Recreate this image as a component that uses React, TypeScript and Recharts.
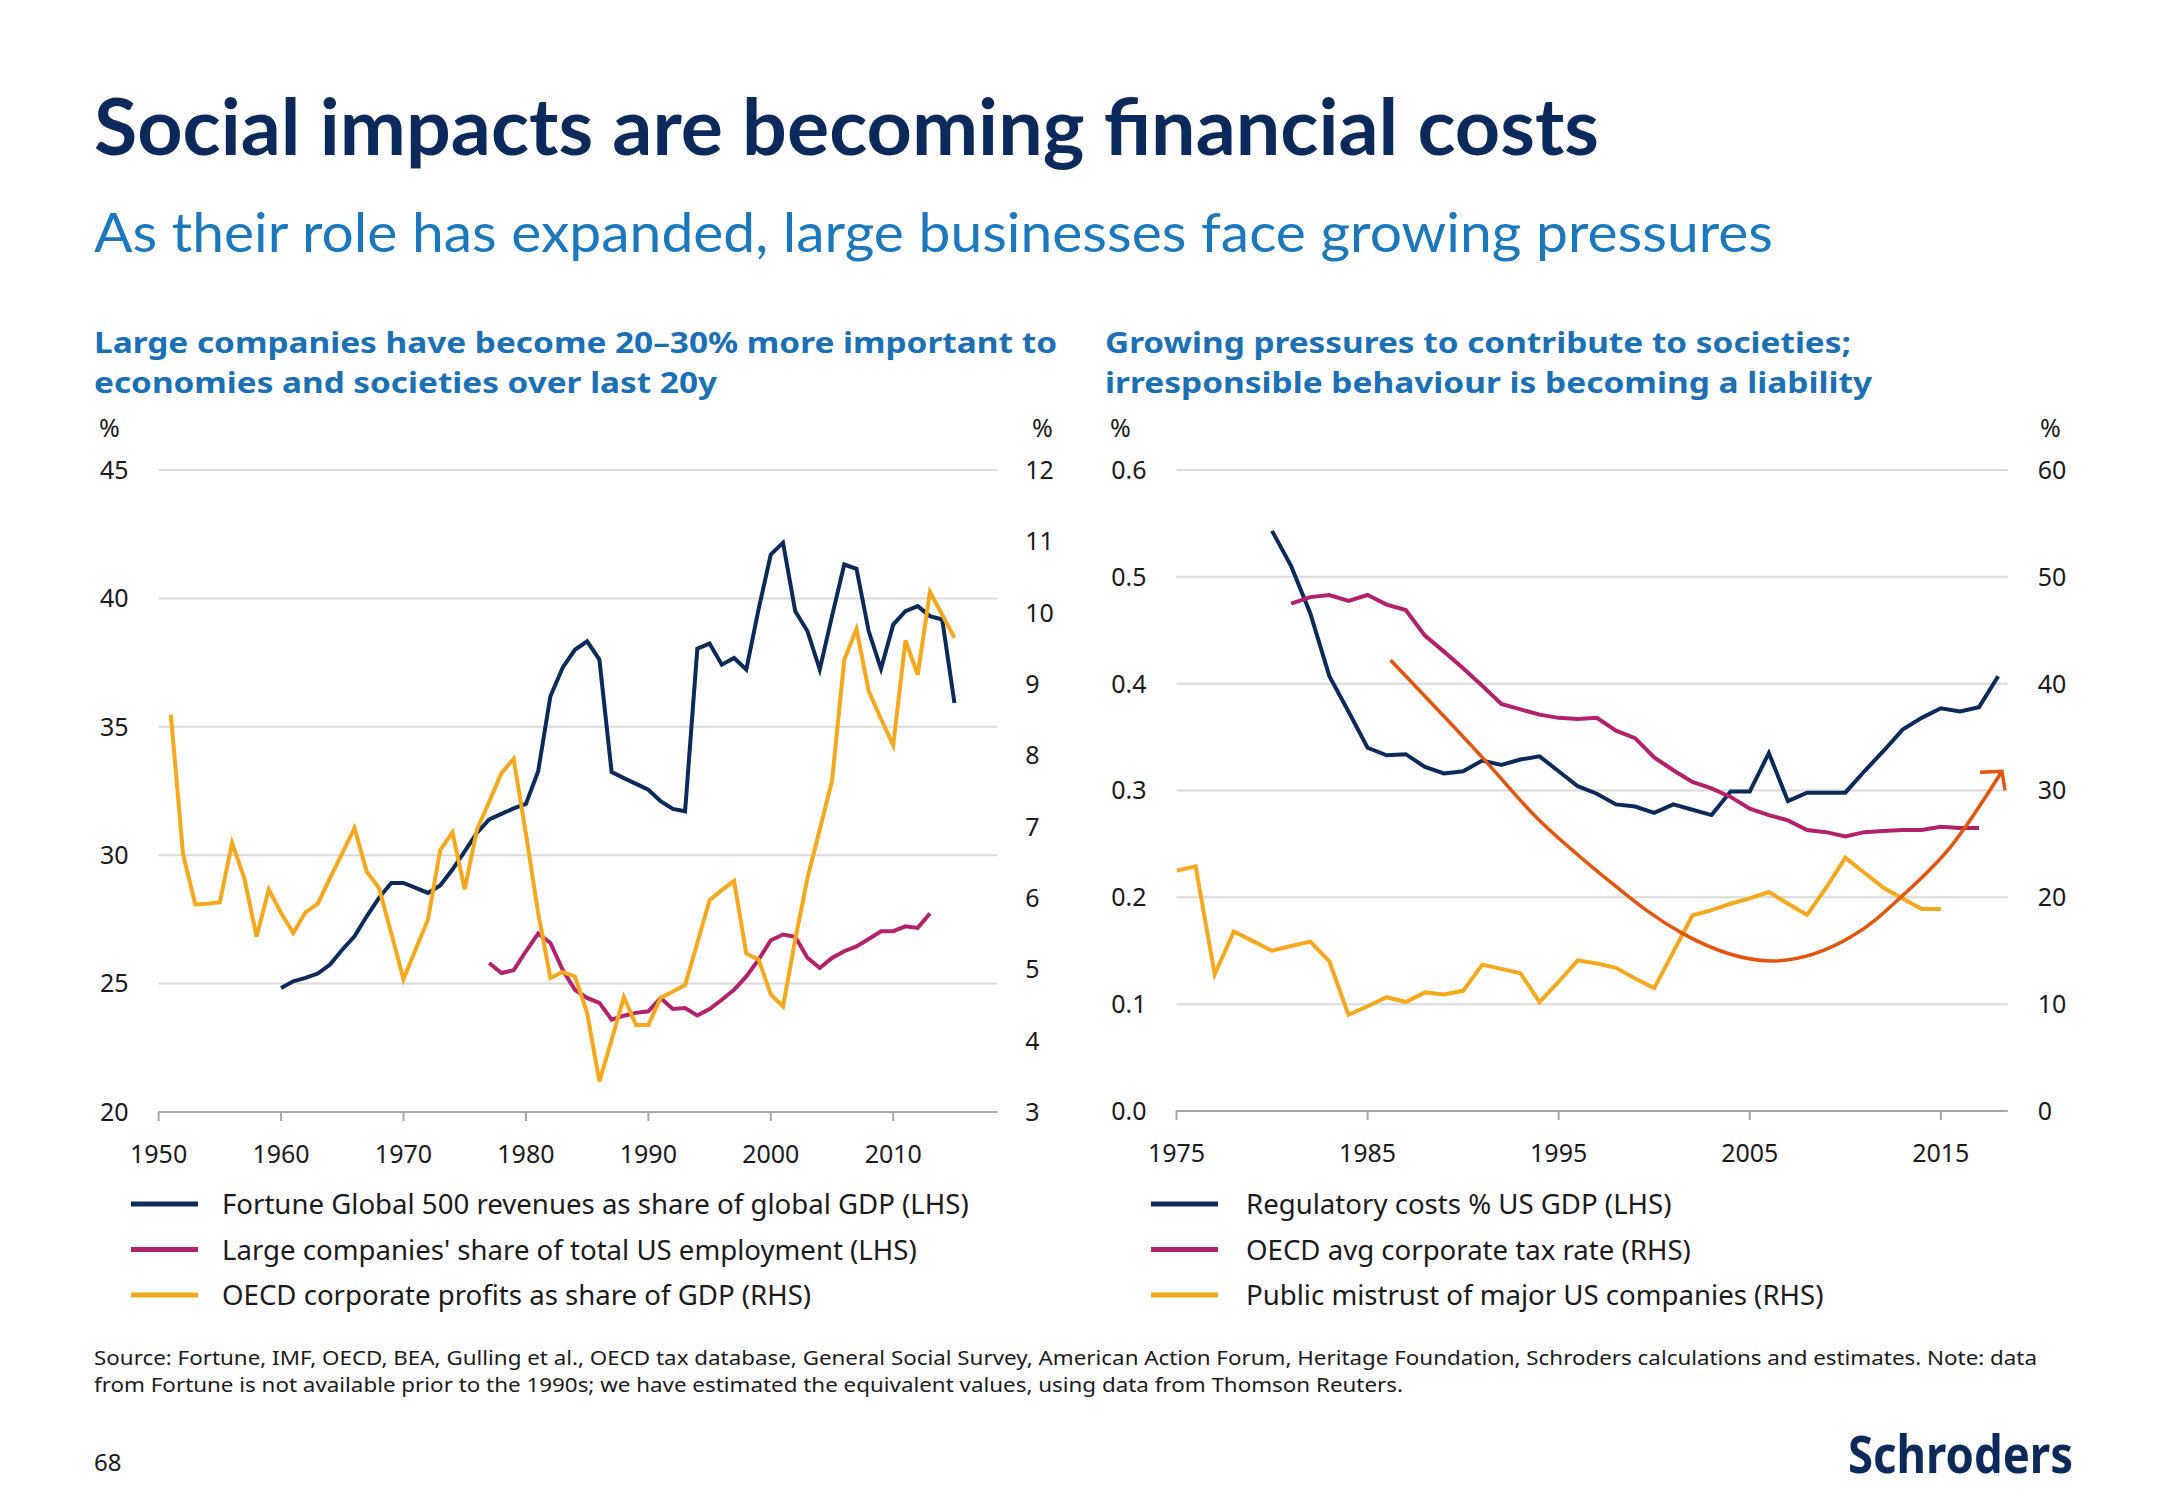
import React from 'react';
import { LineChart, Line, XAxis, YAxis, CartesianGrid } from 'recharts';

const NAVY = '#0b2a5b';
const MAGENTA = '#b3216c';
const YELLOW = '#f5a81c';
const TREND = '#e3550f';
const BODY = '"Noto Sans", "Open Sans", sans-serif';

// ---- left chart: large companies vs economies ----
const leftXTicks = [1950, 1960, 1970, 1980, 1990, 2000, 2010];
const leftLhsTicks = [20, 25, 30, 35, 40, 45];
const leftRhsTicks = [3, 4, 5, 6, 7, 8, 9, 10, 11, 12];

const fortuneStart = 1960;
const fortuneRevenues = [
  24.83, 25.09, 25.22, 25.39, 25.74, 26.32, 26.84, 27.62, 28.34, 28.92,
  28.92, 28.73, 28.53, 28.82, 29.44, 30.15, 30.87, 31.39, 31.61, 31.82,
  32.0, 33.27, 36.19, 37.3, 38.0, 38.33, 37.62, 33.24, 33.0, 32.78,
  32.55, 32.1, 31.8, 31.71, 38.04, 38.24, 37.42, 37.68, 37.23, 39.57,
  41.71, 42.17, 39.5, 38.72, 37.23, 39.31, 41.32, 41.15, 38.72, 37.26,
  38.98, 39.5, 39.7, 39.31, 39.18, 35.93,
];

const employmentStart = 1977;
const usEmployment = [
  25.8, 25.41, 25.52, 26.26, 26.95, 26.58, 25.54, 24.76, 24.44, 24.25,
  23.6, 23.75, 23.86, 23.92, 24.44, 24.01, 24.05, 23.76, 24.01, 24.37,
  24.76, 25.28, 25.93, 26.69, 26.91, 26.82, 26.0, 25.61, 26.0, 26.26,
  26.45, 26.74, 27.04, 27.04, 27.23, 27.17, 27.73,
];

const profitsStart = 1951;
const oecdProfits = [
  8.57, 6.61, 5.91, 5.92, 5.94, 6.77, 6.28, 5.46, 6.12, 5.79,
  5.51, 5.8, 5.92, 6.28, 6.63, 6.98, 6.37, 6.14, 5.51, 4.86,
  5.28, 5.7, 6.67, 6.92, 6.12, 6.96, 7.35, 7.75, 7.95, 6.9,
  5.79, 4.88, 4.96, 4.9, 4.39, 3.43, 4.01, 4.61, 4.22, 4.22,
  4.6, 4.69, 4.78, 5.37, 5.97, 6.11, 6.24, 5.22, 5.14, 4.65,
  4.48, 5.42, 6.28, 6.96, 7.64, 9.34, 9.77, 8.9, 8.51, 8.14,
  9.61, 9.13, 10.29, 9.97, 9.65,
];

// ---- right chart: pressures on companies ----
const rightXTicks = [1975, 1985, 1995, 2005, 2015];
const rightLhsTicks = [0, 0.1, 0.2, 0.3, 0.4, 0.5, 0.6];
const rightRhsTicks = [0, 10, 20, 30, 40, 50, 60];

const regulatoryStart = 1980;
const regulatoryCosts = [
  0.543, 0.51, 0.466, 0.407, 0.374, 0.34, 0.333, 0.334, 0.322, 0.316,
  0.318, 0.328, 0.324, 0.329, 0.332, 0.318, 0.304, 0.297, 0.287, 0.285,
  0.279, 0.287, 0.282, 0.277, 0.299, 0.299, 0.335, 0.29, 0.298, 0.298,
  0.298, 0.318, 0.337, 0.357, 0.368, 0.377, 0.374, 0.378, 0.407,
];

const taxStart = 1981;
const corporateTax = [
  47.5, 48.1, 48.3, 47.75, 48.3, 47.4, 46.9, 44.5, 43.0, 41.45,
  39.8, 38.1, 37.6, 37.1, 36.8, 36.7, 36.8, 35.6, 34.9, 33.1,
  31.9, 30.8, 30.2, 29.4, 28.3, 27.7, 27.2, 26.3, 26.1, 25.7,
  26.1, 26.2, 26.3, 26.3, 26.6, 26.5, 26.5,
];

const mistrustStart = 1975;
const publicMistrust = [
  22.5, 22.9, 12.8, 16.8, 15.9, 15.0, 15.45, 15.85, 14.0, 9.0,
  9.8, 10.65, 10.2, 11.1, 10.9, 11.25, 13.7, 13.3, 12.9, 10.2,
  12.1, 14.1, 13.8, 13.4, 12.4, 11.5, 14.9, 18.3, 18.8, 19.4,
  19.9, 20.5, 19.4, 18.35, 20.9, 23.7, 22.3, 20.9, 19.9, 18.9, 18.9,
];

// hand-drawn trend arrow (LHS scale)
const trendYears = [1986.2, 1991.2, 1994, 1997.8, 2001.5, 2006.1, 2010.3, 2012.9, 2015.5, 2018.2];
const trendValues = [0.422, 0.327, 0.272, 0.213, 0.166, 0.1405, 0.163, 0.2, 0.247, 0.318];

type Series = { key: string; start: number; values: number[] };

const buildTable = (from: number, to: number, series: Series[]) => {
  const rows: any[] = [];
  for (let y = from; y <= to; y++) {
    const row: any = { year: y };
    series.forEach(s => {
      const i = y - s.start;
      row[s.key] = i >= 0 && i < s.values.length ? s.values[i] : null;
    });
    rows.push(row);
  }
  return rows;
};

const leftData = buildTable(1950, 2015, [
  { key: 'fortune', start: fortuneStart, values: fortuneRevenues },
  { key: 'employment', start: employmentStart, values: usEmployment },
  { key: 'profits', start: profitsStart, values: oecdProfits },
]);

const rightData = buildTable(1975, 2018, [
  { key: 'regulatory', start: regulatoryStart, values: regulatoryCosts },
  { key: 'tax', start: taxStart, values: corporateTax },
  { key: 'mistrust', start: mistrustStart, values: publicMistrust },
]);

const trendData = trendYears.map((year, i) => ({ year, trend: trendValues[i] }));

const leftLegend = [
  { label: 'Fortune Global 500 revenues as share of global GDP (LHS)', color: NAVY },
  { label: "Large companies' share of total US employment (LHS)", color: MAGENTA },
  { label: 'OECD corporate profits as share of GDP (RHS)', color: YELLOW },
];
const rightLegend = [
  { label: 'Regulatory costs % US GDP (LHS)', color: NAVY },
  { label: 'OECD avg corporate tax rate (RHS)', color: MAGENTA },
  { label: 'Public mistrust of major US companies (RHS)', color: YELLOW },
];

const tickStyle = { fill: '#1a1a1a', fontSize: 25, fontFamily: BODY };
const AXIS_GREY = '#a6a6a6';

const ArrowHead = (props: any) => {
  const { cx, cy, index } = props;
  if (index !== trendYears.length - 1 || cx == null) return <g key={`ah-${index}`} />;
  return (
    <path
      key="arrowhead"
      d={`M${cx - 22},${cy + 1} L${cx},${cy} L${cx + 3},${cy + 19}`}
      stroke={TREND}
      strokeWidth={3.5}
      fill="none"
    />
  );
};

const T = ({ x, y, size, weight = 400, color = '#1a1a1a', family = BODY, len, children }: any) => (
  <text
    x={x}
    y={y}
    fontSize={size}
    fontWeight={weight}
    fill={color}
    fontFamily={family}
    textLength={len}
    lengthAdjust={len ? 'spacingAndGlyphs' : undefined}
  >
    {children}
  </text>
);

const Legend = ({ items, x, textX }: any) => (
  <g>
    {items.map((it: any, i: number) => {
      const cy = 1204 + i * 45.5;
      return (
        <g key={it.label}>
          <line x1={x} x2={x + 67} y1={cy} y2={cy} stroke={it.color} strokeWidth={5} />
          <T x={textX} y={cy + 10} size={27.6}>{it.label}</T>
        </g>
      );
    })}
  </g>
);

const App = () => {
  return (
    <div style={{ position: 'absolute', left: 0, top: 0, width: 2167, height: 1500, background: '#fff', overflow: 'hidden' }}>
      <svg width={2167} height={1500} style={{ position: 'absolute', left: 0, top: 0 }}>
        <T x={94} y={155} size={78} weight={700} color={NAVY} family='Lato, sans-serif' len={1505}>
          Social impacts are becoming financial costs
        </T>
        <T x={94} y={252} size={54} color='#1b78bd' family='Lato, sans-serif' len={1679}>
          As their role has expanded, large businesses face growing pressures
        </T>

        <T x={94} y={353} size={29} weight={700} color='#1a6fb5' len={963}>
          Large companies have become 20–30% more important to
        </T>
        <T x={94} y={393} size={29} weight={700} color='#1a6fb5' len={623}>
          economies and societies over last 20y
        </T>
        <T x={1105} y={353} size={29} weight={700} color='#1a6fb5' len={746}>
          Growing pressures to contribute to societies;
        </T>
        <T x={1105} y={393} size={29} weight={700} color='#1a6fb5' len={767}>
          irresponsible behaviour is becoming a liability
        </T>

        <T x={99} y={437} size={25}>%</T>
        <T x={1032} y={437} size={25}>%</T>
        <T x={1110} y={437} size={25}>%</T>
        <T x={2040} y={437} size={25}>%</T>

        <Legend items={leftLegend} x={131} textX={222} />
        <Legend items={rightLegend} x={1151} textX={1246} />

        <T x={94} y={1365} size={20} len={1943}>
          Source: Fortune, IMF, OECD, BEA, Gulling et al., OECD tax database, General Social Survey, American Action Forum, Heritage Foundation, Schroders calculations and estimates. Note: data
        </T>
        <T x={94} y={1392} size={20} len={1309}>
          from Fortune is not available prior to the 1990s; we have estimated the equivalent values, using data from Thomson Reuters.
        </T>
        <T x={94} y={1471} size={24}>68</T>
        <T x={1848} y={1473} size={52} weight={700} color={NAVY} len={225}>Schroders</T>
      </svg>

      <div style={{ position: 'absolute', left: 0, top: 380 }}>
        <LineChart width={1100} height={820} data={leftData} margin={{ top: 90, right: 42.7, bottom: 38, left: 98.6 }}>
          <CartesianGrid yAxisId="lhs" vertical={false} stroke="#d9d9d9" strokeWidth={2} />
          <XAxis
            dataKey="year"
            type="number"
            domain={[1950, 2018.5]}
            ticks={leftXTicks}
            height={50}
            tick={tickStyle}
            tickSize={9}
            tickMargin={24}
            stroke={AXIS_GREY}
            axisLine={{ stroke: AXIS_GREY, strokeWidth: 2 }}
            tickLine={{ stroke: AXIS_GREY, strokeWidth: 2 }}
          />
          <YAxis
            yAxisId="lhs"
            domain={[20, 45]}
            ticks={leftLhsTicks}
            width={60}
            axisLine={false}
            tickLine={false}
            tickSize={0}
            tickMargin={30}
            tick={tickStyle}
          />
          <YAxis
            yAxisId="rhs"
            orientation="right"
            domain={[3, 12]}
            ticks={leftRhsTicks}
            width={60}
            axisLine={false}
            tickLine={false}
            tickSize={0}
            tickMargin={28}
            tick={tickStyle}
          />
          <Line yAxisId="lhs" dataKey="fortune" stroke={NAVY} strokeWidth={4} dot={false} activeDot={false} isAnimationActive={false} />
          <Line yAxisId="lhs" dataKey="employment" stroke={MAGENTA} strokeWidth={4} dot={false} activeDot={false} isAnimationActive={false} />
          <Line yAxisId="rhs" dataKey="profits" stroke={YELLOW} strokeWidth={4} dot={false} activeDot={false} isAnimationActive={false} />
        </LineChart>
      </div>

      <div style={{ position: 'absolute', left: 1100, top: 380 }}>
        <LineChart width={1067} height={820} data={rightData} margin={{ top: 90, right: 99.3, bottom: 39, left: 16.5 }}>
          <CartesianGrid yAxisId="lhs" vertical={false} stroke="#d9d9d9" strokeWidth={2} />
          <XAxis
            dataKey="year"
            type="number"
            domain={[1975, 2018.5]}
            ticks={rightXTicks}
            height={50}
            tick={tickStyle}
            tickSize={9}
            tickMargin={24}
            stroke={AXIS_GREY}
            axisLine={{ stroke: AXIS_GREY, strokeWidth: 2 }}
            tickLine={{ stroke: AXIS_GREY, strokeWidth: 2 }}
            allowDataOverflow
          />
          <YAxis
            yAxisId="lhs"
            domain={[0, 0.6]}
            ticks={rightLhsTicks}
            width={60}
            axisLine={false}
            tickLine={false}
            tickSize={0}
            tickMargin={30}
            tick={tickStyle}
            tickFormatter={(v: number) => v.toFixed(1)}
          />
          <YAxis
            yAxisId="rhs"
            orientation="right"
            domain={[0, 60]}
            ticks={rightRhsTicks}
            width={60}
            axisLine={false}
            tickLine={false}
            tickSize={0}
            tickMargin={30}
            tick={tickStyle}
          />
          <Line yAxisId="lhs" dataKey="regulatory" stroke={NAVY} strokeWidth={4} dot={false} activeDot={false} isAnimationActive={false} />
          <Line yAxisId="rhs" dataKey="tax" stroke={MAGENTA} strokeWidth={4} dot={false} activeDot={false} isAnimationActive={false} />
          <Line yAxisId="rhs" dataKey="mistrust" stroke={YELLOW} strokeWidth={4} dot={false} activeDot={false} isAnimationActive={false} />
          <Line
            yAxisId="lhs"
            data={trendData}
            dataKey="trend"
            type="natural"
            stroke={TREND}
            strokeWidth={3.5}
            dot={ArrowHead}
            activeDot={false}
            isAnimationActive={false}
          />
        </LineChart>
      </div>
    </div>
  );
};

export default App;
